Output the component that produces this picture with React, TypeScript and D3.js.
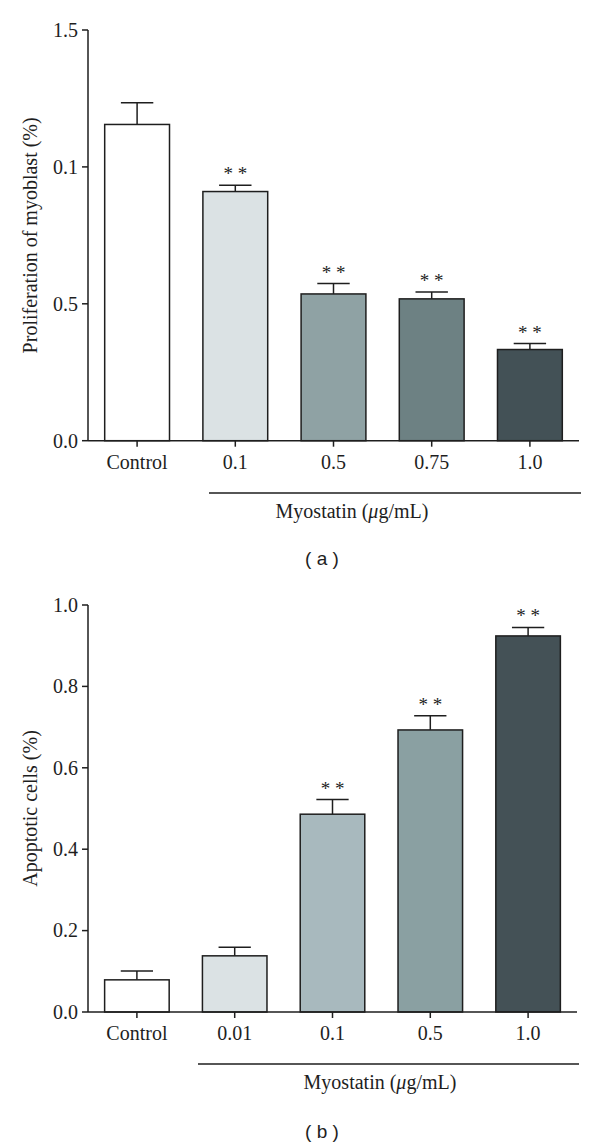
import { useEffect, useRef } from "react";
import * as d3 from "d3";

// panel (a): proliferation
const propCategories = ["Control", "0.1", "0.5", "0.75", "1.0"];
const propMeans = [1.155, 0.91, 0.536, 0.518, 0.333];
const propErrors = [0.079, 0.023, 0.038, 0.025, 0.022];
const propSig = ["", "**", "**", "**", "**"];
const propColors = ["#ffffff", "#dbe2e4", "#8fa2a4", "#6d8183", "#435156"];
const propTicks = [0, 0.5, 1.0, 1.5];
const propTickLabels = ["0.0", "0.5", "0.1", "1.5"]; // as printed in the figure

// panel (b): apoptosis
const apopCategories = ["Control", "0.01", "0.1", "0.5", "1.0"];
const apopMeans = [0.079, 0.138, 0.486, 0.693, 0.924];
const apopErrors = [0.022, 0.021, 0.036, 0.035, 0.021];
const apopSig = ["", "", "**", "**", "**"];
const apopColors = ["#ffffff", "#dbe2e4", "#a8b9be", "#8aa0a2", "#445156"];
const apopTicks = [0, 0.2, 0.4, 0.6, 0.8, 1.0];
const apopTickLabels = ["0.0", "0.2", "0.4", "0.6", "0.8", "1.0"];

const serif = "'Liberation Serif', 'Times New Roman', serif";
const sans = "'Liberation Sans', Arial, sans-serif";

interface Panel {
  categories: string[];
  means: number[];
  errors: number[];
  sig: string[];
  colors: string[];
  ticks: number[];
  tickLabels: string[];
  yMax: number;
  top: number;
  bottom: number;
  right: number;
  yLabel: string;
  lineStart: number;
  lineY: number;
  unitX: number;
  letter: string;
  letterY: number;
}

export default function App() {
  const ref = useRef<SVGSVGElement | null>(null);

  useEffect(() => {
    document.body.style.margin = "0";
    const svg = d3.select(ref.current).attr("width", 600).attr("height", 1146).style("background", "#fff");
    svg.selectAll("*").remove();

    const panels: Panel[] = [
      {
        categories: propCategories, means: propMeans, errors: propErrors, sig: propSig, colors: propColors,
        ticks: propTicks, tickLabels: propTickLabels, yMax: 1.5, top: 30, bottom: 440.7, right: 579,
        yLabel: "Proliferation of myoblast (%)", lineStart: 209, lineY: 493, unitX: 352, letter: "( a )", letterY: 565,
      },
      {
        categories: apopCategories, means: apopMeans, errors: apopErrors, sig: apopSig, colors: apopColors,
        ticks: apopTicks, tickLabels: apopTickLabels, yMax: 1.0, top: 605, bottom: 1012, right: 577,
        yLabel: "Apoptotic cells (%)", lineStart: 198, lineY: 1064, unitX: 380, letter: "( b )", letterY: 1138,
      },
    ];

    const left = 88;
    const ink = "#1e1e1e";

    panels.forEach((p) => {
      const g = svg.append("g");
      const x = d3.scaleBand().domain(p.categories).range([left, p.right]).paddingInner(0.34).paddingOuter(0.17);
      const y = d3.scaleLinear().domain([0, p.yMax]).range([p.bottom, p.top]);
      const bw = x.bandwidth();

      // bars
      p.categories.forEach((c, i) => {
        const cx = x(c)! + bw / 2;
        const yTop = y(p.means[i]);
        const yErr = y(p.means[i] + p.errors[i]);
        g.append("line").attr("x1", cx).attr("x2", cx).attr("y1", yTop).attr("y2", yErr)
          .attr("stroke", ink).attr("stroke-width", 1.5);
        g.append("line").attr("x1", cx - bw / 4).attr("x2", cx + bw / 4).attr("y1", yErr).attr("y2", yErr)
          .attr("stroke", ink).attr("stroke-width", 1.5);
        g.append("rect").attr("x", x(c)!).attr("y", yTop).attr("width", bw).attr("height", p.bottom - yTop)
          .attr("fill", p.colors[i]).attr("stroke", ink).attr("stroke-width", 1.5);
        if (p.sig[i]) {
          g.append("text").attr("x", cx).attr("y", yErr - 5).attr("text-anchor", "middle")
            .attr("font-family", serif).attr("font-size", 19).attr("fill", ink)
            .text(p.sig[i].split("").join(" "));
        }
      });

      // y axis
      g.append("line").attr("x1", left).attr("x2", left).attr("y1", p.top).attr("y2", p.bottom)
        .attr("stroke", ink).attr("stroke-width", 1.5);
      p.ticks.forEach((t, i) => {
        g.append("line").attr("x1", left - 6).attr("x2", left).attr("y1", y(t)).attr("y2", y(t))
          .attr("stroke", ink).attr("stroke-width", 1.5);
        g.append("text").attr("x", left - 10).attr("y", y(t)).attr("dy", "0.34em").attr("text-anchor", "end")
          .attr("font-family", serif).attr("font-size", 20).attr("fill", ink).text(p.tickLabels[i]);
      });

      // x axis
      g.append("line").attr("x1", left).attr("x2", p.right).attr("y1", p.bottom).attr("y2", p.bottom)
        .attr("stroke", ink).attr("stroke-width", 1.5);
      p.categories.forEach((c) => {
        const cx = x(c)! + bw / 2;
        g.append("line").attr("x1", cx).attr("x2", cx).attr("y1", p.bottom).attr("y2", p.bottom + 6)
          .attr("stroke", ink).attr("stroke-width", 1.5);
        g.append("text").attr("x", cx).attr("y", p.bottom + 28).attr("text-anchor", "middle")
          .attr("font-family", serif).attr("font-size", 20).attr("fill", ink).text(c);
      });

      // y label
      g.append("text").attr("transform", `translate(37, ${(p.top + p.bottom) / 2}) rotate(-90)`)
        .attr("text-anchor", "middle").attr("font-family", serif).attr("font-size", 20).attr("fill", ink)
        .text(p.yLabel);

      // treatment bracket
      g.append("line").attr("x1", p.lineStart).attr("x2", p.right + 2).attr("y1", p.lineY).attr("y2", p.lineY)
        .attr("stroke", ink).attr("stroke-width", 1.5);
      g.append("text").attr("x", p.unitX).attr("y", p.lineY + 25).attr("text-anchor", "middle")
        .attr("font-family", serif).attr("font-size", 20).attr("fill", ink)
        .call((t) => {
          t.append("tspan").text("Myostatin (");
          t.append("tspan").attr("font-style", "italic").text("μ");
          t.append("tspan").text("g/mL)");
        });

      // panel letter
      g.append("text").attr("x", 322).attr("y", p.letterY).attr("text-anchor", "middle")
        .attr("font-family", sans).attr("font-size", 19).attr("fill", ink).text(p.letter);
    });
  }, []);

  return <svg ref={ref} style={{ display: "block" }} />;
}
